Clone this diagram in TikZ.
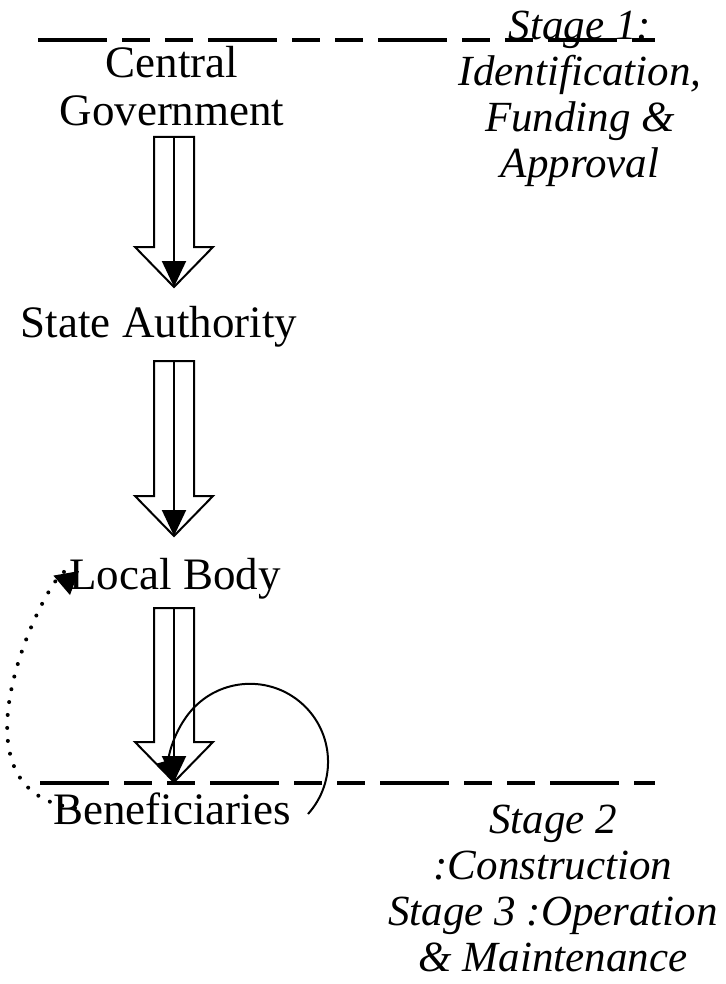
\documentclass[tikz,border=0pt]{standalone}
\usepackage{fontspec}
\setmainfont{Liberation Serif}
\usetikzlibrary{arrows.meta, calc}

% hollow block arrow between two named coordinates (top of shaft, tip)
\newcommand{\hollowarrow}[2]{%
    \draw[blockarrow] ($(#1)+(-20,0)$) -- ($(#2)+(-20,40)$) -- ($(#2)+(-39,40)$)
        -- (#2) -- ($(#2)+(39,40)$) -- ($(#2)+(20,40)$) -- ($(#1)+(20,0)$) -- cycle;
    \draw[flowline] (#1) -- (#2);
}

\begin{document}
\begin{tikzpicture}[
    x=1pt, y=1pt,
    font=\fontsize{45}{48}\selectfont,
    level/.style={
        inner sep=0pt,
        align=center
    },
    stagenote/.style={
        inner sep=0pt,
        align=center,
        font=\fontsize{43}{46}\selectfont\itshape
    },
    blockarrow/.style={
        draw=black,
        fill=white,
        line width=2pt,
        line join=miter
    },
    flowline/.style={
        draw=black,
        line width=2pt,
        -{Triangle[width=24pt, length=26pt]}
    },
    stageline/.style={
        line width=3.2pt,
        dash pattern=on 69pt off 15pt on 28pt off 15pt on 28pt off 15pt
    },
    loopline/.style={
        line width=2pt,
        -{Triangle[width=24pt, length=24pt]}
    },
    feedback/.style={
        line width=4pt,
        line cap=round,
        dash pattern=on 0pt off 13pt,
        -{Triangle[width=26pt, length=22pt, line cap=butt, line width=0pt]}
    }
]
\useasboundingbox (0,0) rectangle (725,-984);

% ================= STAGE BOUNDARIES =================
\draw[stageline] (38,-40) -- (655,-40);
\draw[stageline] (40,-783) -- (655,-783);

% ================= LEVELS =================
\node[level] (cg) at (172,-86) {Central\\Government};
\node[level] (sa) at (159,-327) {State Authority};
\node[level] (lb) at (175,-579) {Local Body};
\node[level] (bn) at (172,-809) {Beneficiaries};

% ================= STAGE NOTES =================
\node[stagenote] (s1) at (580,-99) {Stage 1:\\Identification,\\Funding \&\\Approval};
\node[stagenote] (s2) at (553,-888) {Stage 2\\:Construction\\Stage 3 :Operation\\\& Maintenance};

% ================= FLOW =================
\coordinate (a1top) at (174,-137);
\coordinate (a1tip) at (174,-287);
\coordinate (a2top) at (174,-361);
\coordinate (a2tip) at (174,-536);
\coordinate (a3top) at (174,-608);
\coordinate (a3tip) at (174,-782);

\hollowarrow{a1top}{a1tip}
\hollowarrow{a2top}{a2tip}
\hollowarrow{a3top}{a3tip}

% ================= FEEDBACK =================
\coordinate (loopstart) at (308,-814);
\draw[loopline] (loopstart) arc[start angle=-42, end angle=196, radius=78];

\coordinate (dotstart) at (75,-808);
\coordinate (dottip) at (70,-595);
\draw[feedback] (dotstart) .. controls (-70,-790) and (62,-550) .. (dottip);

\end{tikzpicture}
\end{document}
